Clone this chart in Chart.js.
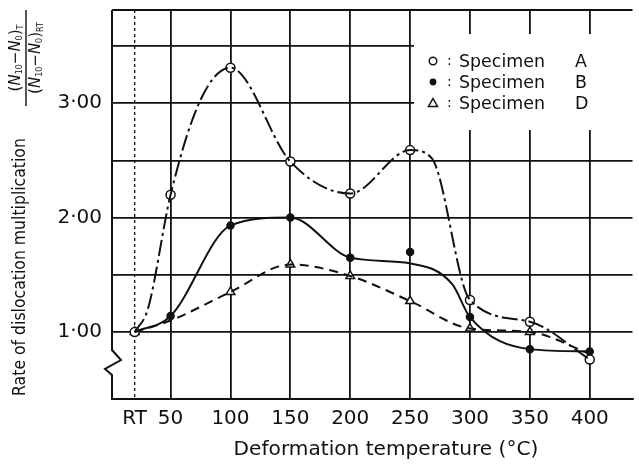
<!DOCTYPE html>
<html>
<head>
<meta charset="utf-8">
<script src="https://cdn.jsdelivr.net/npm/chart.js@4.4.0/dist/chart.umd.min.js"></script>
<style>
  html, body { margin: 0; padding: 0; background: #fff; }
  #wrap { width: 639px; height: 466px; }
</style>
</head>
<body>
<div id="wrap"><canvas id="dislocationChart" width="639" height="466"></canvas></div>
<script>
// deformation temperatures, RT taken as 20 C
const temps = [20, 50, 100, 150, 200, 250, 300, 350, 400];
const tickLabels = ['RT', '50', '100', '150', '200', '250', '300', '350', '400'];
const yTicks = [1.0, 1.5, 2.0, 2.5, 3.0, 3.5];

// measured points
const specA = [1.00, 2.20, 3.31, 2.49, 2.21, 2.59, 1.28, 1.09, 0.76];
const specB = [1.00, 1.14, 1.93, 2.00, 1.65, 1.70, 1.13, 0.85, 0.83];
const specD = [1.00, null, 1.35, 1.59, 1.49, 1.27, 1.03, 1.00, null];

// hand drawn curves (they don't always pass through the points)
const curveAx = [20, 31, 50, 75, 100, 150, 200, 250, 268, 300, 350, 400];
const curveAy = [1.00, 1.20, 2.20, 3.03, 3.31, 2.49, 2.21, 2.59, 2.52, 1.28, 1.09, 0.76];
const curveBx = [20, 50, 100, 150, 200, 250, 285, 300, 350, 400];
const curveBy = [1.00, 1.14, 1.93, 2.00, 1.65, 1.60, 1.42, 1.13, 0.85, 0.83];
const curveDx = [20, 50, 100, 150, 200, 250, 300, 350, 400];
const curveDy = [1.00, 1.10, 1.35, 1.59, 1.49, 1.27, 1.03, 1.00, 0.81];

const ink = '#111';
const font = 'DejaVu Sans';
const condensed = 'DejaVu Sans Condensed';

const toPts = (xs, ys) => xs.map((x, i) => ({ x: x, y: ys[i] })).filter(p => p.y !== null);

function curve(xs, ys, dash) {
  return {
    data: toPts(xs, ys),
    showLine: true,
    borderColor: ink,
    borderWidth: 2,
    borderDash: dash,
    pointRadius: 0,
    cubicInterpolationMode: 'monotone',
    fill: false
  };
}

function markers(ys, style, fillCol, r) {
  return {
    data: toPts(temps, ys),
    showLine: false,
    pointStyle: style,
    pointRadius: r,
    pointBackgroundColor: fillCol,
    pointBorderColor: ink,
    pointBorderWidth: 1.5
  };
}

function fitFont(ctx, text, target, family) {
  ctx.font = '20px "' + family + '"';
  const w = ctx.measureText(text).width;
  return 20 * target / w;
}

const decorations = {
  id: 'decorations',
  beforeDatasetsDraw(chart) {
    const { ctx, chartArea: a, scales } = chart;
    ctx.save();
    // RT gridline is dotted
    const xr = scales.x.getPixelForValue(temps[0]);
    ctx.strokeStyle = ink;
    ctx.lineWidth = 1.3;
    ctx.setLineDash([3, 3]);
    ctx.beginPath();
    ctx.moveTo(xr, a.top);
    ctx.lineTo(xr, a.bottom);
    ctx.stroke();
    ctx.setLineDash([]);
    // legend box hides the grid
    ctx.fillStyle = '#fff';
    ctx.fillRect(414, 34, a.right - 414 + 4, 96);
    ctx.restore();
  },
  afterDraw(chart) {
    const { ctx, chartArea: a } = chart;
    ctx.save();
    ctx.strokeStyle = ink;
    ctx.lineWidth = 2;
    // top edge
    ctx.beginPath();
    ctx.moveTo(a.left, a.top);
    ctx.lineTo(a.right, a.top);
    ctx.stroke();
    // left axis with the break
    ctx.beginPath();
    ctx.moveTo(a.left, a.top);
    ctx.lineTo(a.left, 350);
    ctx.lineTo(a.left + 9, 360);
    ctx.lineTo(a.left - 7, 369);
    ctx.lineTo(a.left, 375);
    ctx.lineTo(a.left, a.bottom);
    ctx.stroke();

    ctx.fillStyle = ink;
    // x title
    const xt = 'Deformation temperature (°C)';
    ctx.font = fitFont(ctx, xt, 305, font) + 'px "' + font + '"';
    ctx.textAlign = 'center';
    ctx.textBaseline = 'middle';
    ctx.fillText(xt, 386, 450);

    // y title
    const yt = 'Rate of dislocation multiplication';
    ctx.save();
    ctx.translate(20, 267);
    ctx.rotate(-Math.PI / 2);
    ctx.font = fitFont(ctx, yt, 258, condensed) + 'px "' + condensed + '"';
    ctx.fillText(yt, 0, 0);
    ctx.restore();

    // fraction (N10-N0)T / (N10-N0)RT
    ctx.save();
    ctx.translate(26, 58);
    ctx.rotate(-Math.PI / 2);
    drawNExpr(ctx, -10, 'T');
    drawNExpr(ctx, 10, 'RT');
    ctx.lineWidth = 1.4;
    ctx.beginPath();
    ctx.moveTo(-48, 0);
    ctx.lineTo(48, 0);
    ctx.stroke();
    ctx.restore();

    // legend
    const rows = [
      { y: 61, mark: 'open', letter: 'A' },
      { y: 82, mark: 'dot', letter: 'B' },
      { y: 103, mark: 'tri', letter: 'D' }
    ];
    ctx.textAlign = 'left';
    ctx.textBaseline = 'middle';
    const sz = fitFont(ctx, 'Specimen', 86, font);
    rows.forEach(r => {
      ctx.lineWidth = 1.5;
      ctx.beginPath();
      if (r.mark === 'open') {
        ctx.arc(433, r.y, 3.8, 0, Math.PI * 2);
        ctx.stroke();
      } else if (r.mark === 'dot') {
        ctx.arc(433, r.y, 3.4, 0, Math.PI * 2);
        ctx.fill();
      } else {
        ctx.moveTo(433, r.y - 4.5);
        ctx.lineTo(437.5, r.y + 3.5);
        ctx.lineTo(428.5, r.y + 3.5);
        ctx.closePath();
        ctx.stroke();
      }
      ctx.font = (sz * 0.8) + 'px "' + font + '"';
      ctx.fillText(':', 447, r.y);
      ctx.font = sz + 'px "' + font + '"';
      ctx.fillText('Specimen', 459, r.y + 1);
      ctx.fillText(r.letter, 575, r.y + 1);
    });
    ctx.restore();
  }
};

// "(N10 - N0)sub" written along the rotated baseline, centred on 0
function drawNExpr(ctx, yOff, sub) {
  const parts = [
    { t: '(', f: '15px "' + font + '"', dy: 0 },
    { t: 'N', f: 'italic 15px "' + font + '"', dy: 0 },
    { t: '10', f: '8px "' + font + '"', dy: 4 },
    { t: '\u2212', f: '15px "' + font + '"', dy: 0 },
    { t: 'N', f: 'italic 15px "' + font + '"', dy: 0 },
    { t: '0', f: '8px "' + font + '"', dy: 4 },
    { t: ')', f: '15px "' + font + '"', dy: 0 },
    { t: sub, f: '8px "' + font + '"', dy: 5 }
  ];
  let total = 0;
  parts.forEach(p => { ctx.font = p.f; total += ctx.measureText(p.t).width; });
  let x = -total / 2;
  ctx.textAlign = 'left';
  ctx.textBaseline = 'middle';
  parts.forEach(p => {
    ctx.font = p.f;
    ctx.fillText(p.t, x, yOff + p.dy);
    x += ctx.measureText(p.t).width;
  });
}

const ctx = document.getElementById('dislocationChart').getContext('2d');
const dislocationChart = new Chart(ctx, {
  type: 'scatter',
  data: {
    datasets: [
      curve(curveAx, curveAy, [16, 4, 3, 4]),
      curve(curveBx, curveBy, []),
      curve(curveDx, curveDy, [9, 6]),
      markers(specA, 'circle', '#fff', 4.5),
      markers(specB, 'circle', ink, 3.5),
      markers(specD, 'triangle', '#fff', 5)
    ]
  },
  options: {
    responsive: false,
    animation: false,
    layout: { padding: { top: 10, right: 3, left: 0, bottom: 0 } },
    plugins: {
      legend: { display: false },
      tooltip: { enabled: false }
    },
    scales: {
      x: {
        type: 'linear',
        min: 1.07,
        max: 435.7,
        afterBuildTicks: s => { s.ticks = temps.map(v => ({ value: v })); },
        afterFit: s => { s.height = 67; s.paddingRight = 0; },
        ticks: {
          color: ink,
          font: { family: font, size: 20 },
          padding: 8,
          maxRotation: 0,
          autoSkip: false,
          callback: (v) => tickLabels[temps.indexOf(v)]
        },
        grid: {
          color: c => (c.tick && c.tick.value === temps[0] ? 'rgba(0,0,0,0)' : ink),
          lineWidth: 1.8,
          drawTicks: false
        },
        border: { display: true, color: ink, width: 2 }
      },
      y: {
        min: 0.414,
        max: 3.815,
        afterBuildTicks: s => { s.ticks = yTicks.map(v => ({ value: v })); },
        afterFit: s => { s.width = 112; s.paddingTop = 0; s.paddingBottom = 0; },
        ticks: {
          color: ink,
          font: { family: font, size: 20 },
          padding: 10,
          callback: v => (v % 1 === 0 ? v.toFixed(2).replace('.', '\u00b7') : '')
        },
        grid: {
          color: ink,
          lineWidth: 1.8,
          drawTicks: false
        },
        border: { display: false }
      }
    }
  },
  plugins: [decorations]
});
</script>
</body>
</html>
